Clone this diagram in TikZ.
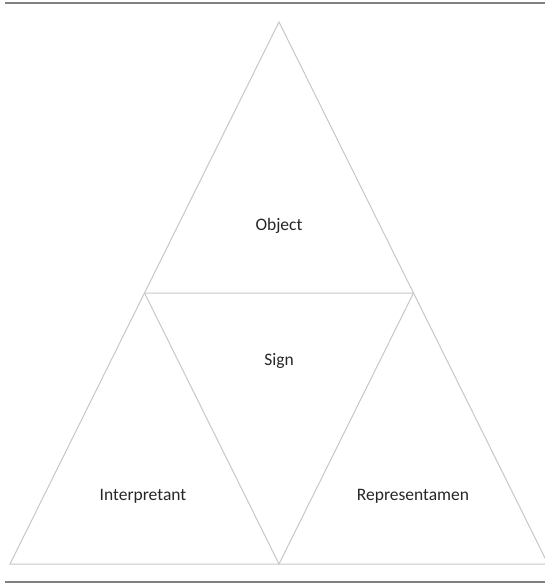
\documentclass[tikz,border=0pt]{standalone}
\usepackage{fontspec}
\setmainfont{Carlito}
\begin{document}
\begin{tikzpicture}[x=1pt,y=-1pt,
  tri/.style={draw=black!22,line width=1pt,line join=miter},
  rule/.style={draw=black!50,line width=1.6pt},
  lbl/.style={font=\fontsize{17.5}{20}\selectfont,text=black!85,inner sep=0pt}]
\useasboundingbox (0,0) rectangle (545,583);
\clip (0,0) rectangle (545,583);
\coordinate (A) at (279,22);
\coordinate (L) at (10,564);
\coordinate (R) at (548,564);
\coordinate (ML) at (144.5,293);
\coordinate (MR) at (413.5,293);
\coordinate (MB) at (279,564);
\coordinate (T1) at (5,3);
\coordinate (T2) at (546,3);
\coordinate (B1) at (5,582);
\coordinate (B2) at (546,582);
\draw[rule] (T1) -- (T2);
\draw[rule] (B1) -- (B2);
\draw[tri] (A) -- (L) -- (R) -- cycle;
\draw[tri] (ML) -- (MR) -- (MB) -- cycle;
\node[lbl] (obj) at (279,226) {Object};
\node[lbl] (sign) at (279,361) {Sign};
\node[lbl] (interp) at (143,496) {Interpretant};
\node[lbl] (repr) at (413,496) {Representamen};
\end{tikzpicture}
\end{document}
